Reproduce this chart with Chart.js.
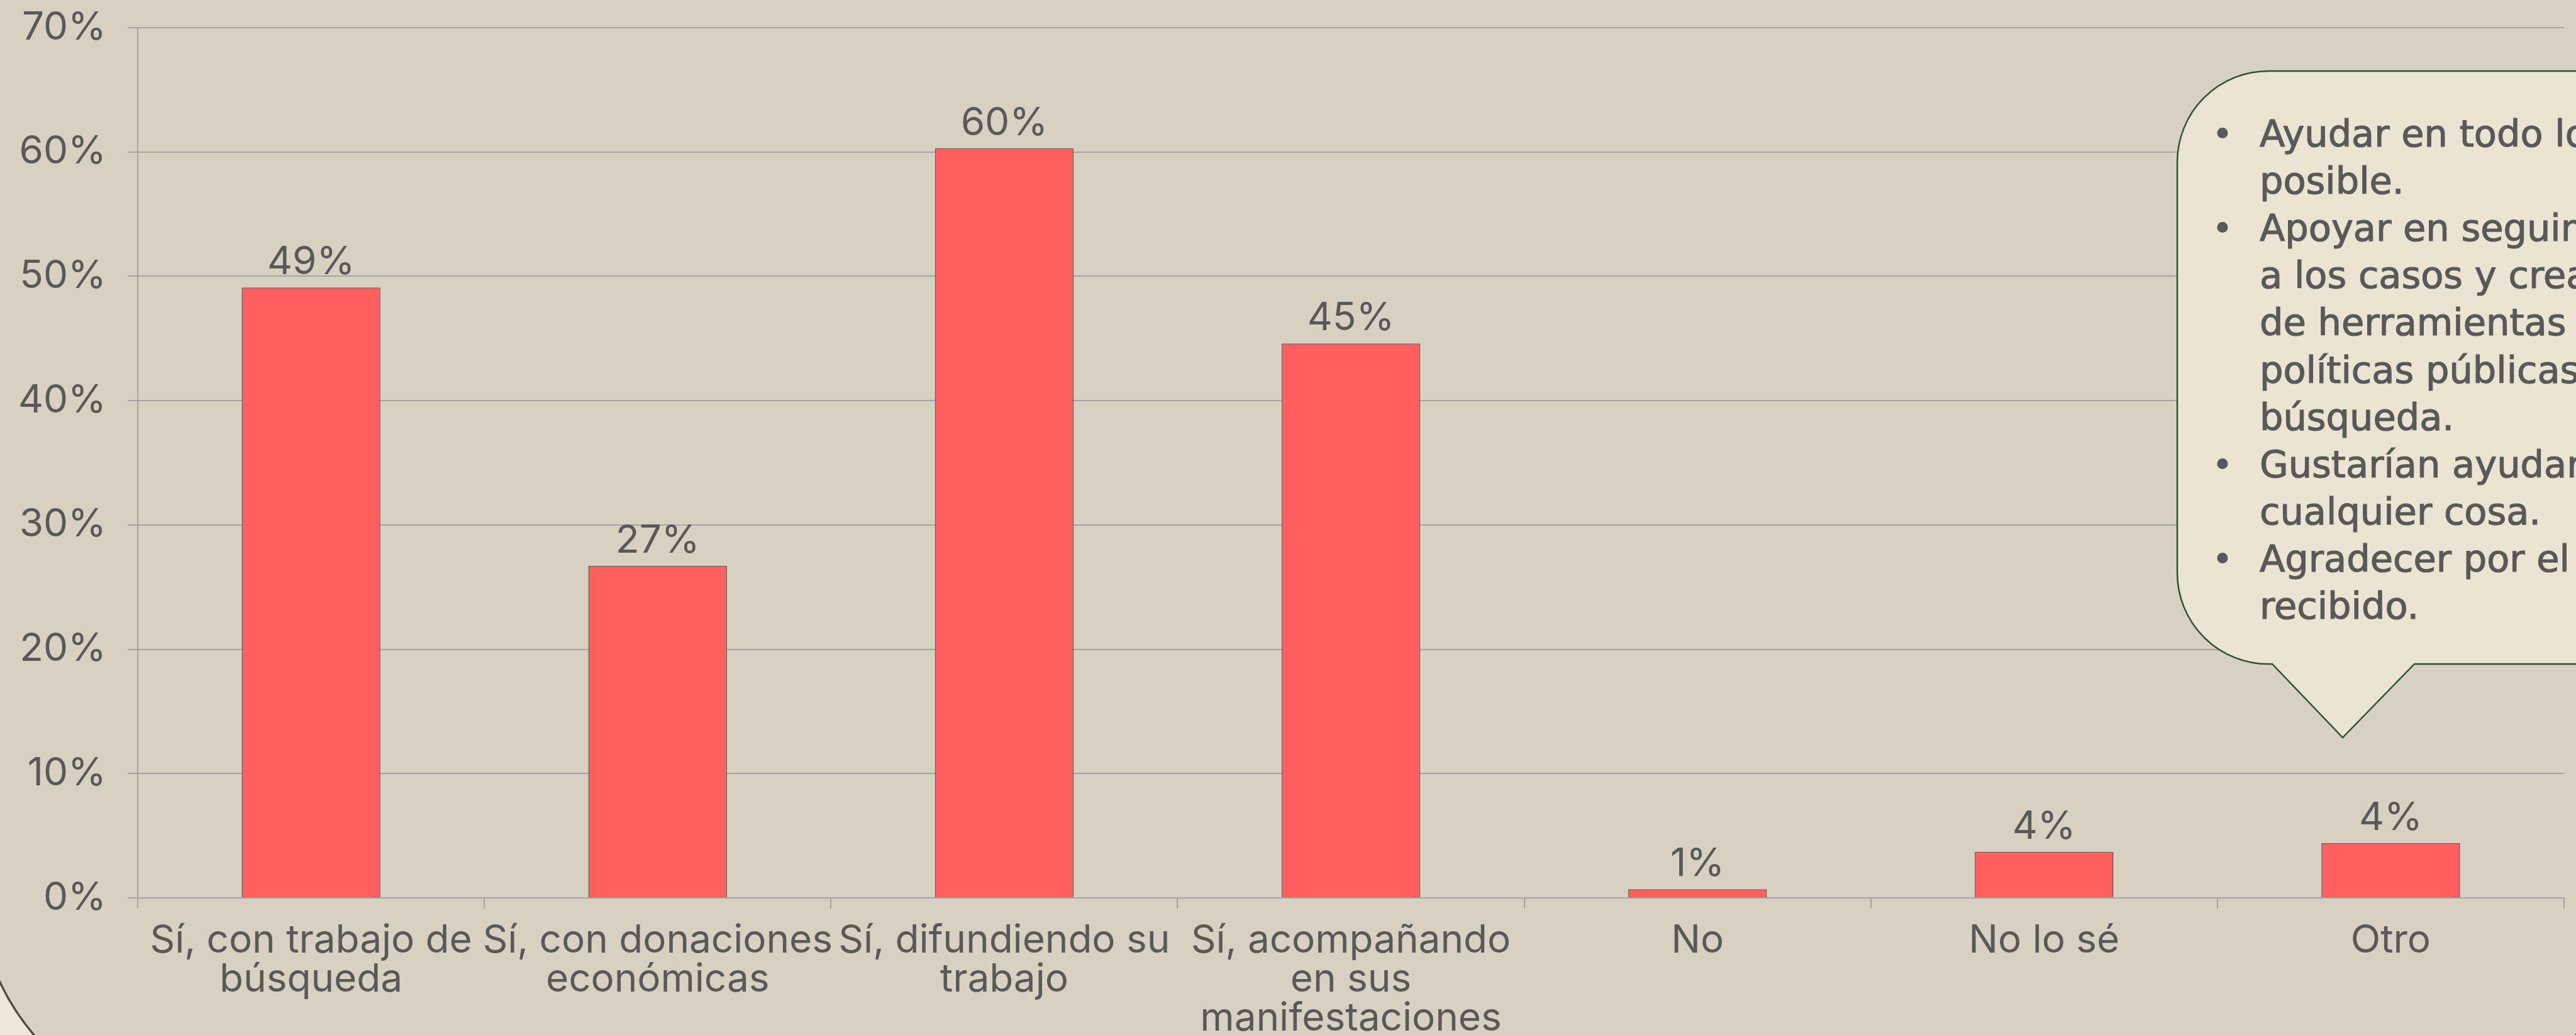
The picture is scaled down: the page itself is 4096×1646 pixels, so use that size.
<!DOCTYPE html>
<html lang="es">
<head>
    <meta charset="UTF-8">
    <title>Apoyo a la búsqueda</title>
    <script src="https://cdn.jsdelivr.net/npm/chart.js"></script>
    <style>
        html, body {
            margin: 0;
            padding: 0;
            background-color: #d8d0c0;
            overflow: hidden;
        }

        canvas {
            display: block;
        }
    </style>
</head>
<body>

<canvas id="graficoApoyo" width="4096" height="1646"></canvas>

<script>
    // datos del gráfico
    const categorias = [
        ['Sí, con trabajo de', 'búsqueda'],
        ['Sí, con donaciones', 'económicas'],
        ['Sí, difundiendo su', 'trabajo'],
        ['Sí, acompañando', 'en sus', 'manifestaciones'],
        'No',
        'No lo sé',
        'Otro'
    ];
    const porcentajes = [49.1, 26.7, 60.3, 44.6, 0.7, 3.7, 4.4];
    const marcasY = [0, 10, 20, 30, 40, 50, 60, 70];

    // texto del globo de "Otro"
    const notaOtro = [
        { vineta: true, texto: 'Ayudar en todo lo' },
        { vineta: false, texto: 'posible.' },
        { vineta: true, texto: 'Apoyar en seguimiento' },
        { vineta: false, texto: 'a los casos y creación' },
        { vineta: false, texto: 'de herramientas y' },
        { vineta: false, texto: 'políticas públicas de' },
        { vineta: false, texto: 'búsqueda.' },
        { vineta: true, texto: 'Gustarían ayudar en' },
        { vineta: false, texto: 'cualquier cosa.' },
        { vineta: true, texto: 'Agradecer por el apoyo' },
        { vineta: false, texto: 'recibido.' }
    ];

    const colorTexto = '#595959';
    const colorLinea = '#a4a4a4';
    const fuente = 'Inter, "Liberation Sans", Arial, sans-serif';

    Chart.defaults.font.family = fuente;
    Chart.defaults.color = colorTexto;

    const fondo = {
        id: 'fondo',
        beforeDraw(chart) {
            const ctx = chart.ctx;
            ctx.save();
            ctx.fillStyle = '#ede7d8';
            ctx.fillRect(0, 0, chart.width, chart.height);
            ctx.beginPath();
            ctx.roundRect(-37, -600, 4224, 2381, 383);
            ctx.fillStyle = '#d8d0c0';
            ctx.fill();
            ctx.lineWidth = 3.5;
            ctx.strokeStyle = '#4d4940';
            ctx.stroke();
            ctx.restore();
        }
    };

    const etiquetasBarras = {
        id: 'etiquetasBarras',
        afterDatasetsDraw(chart) {
            const ctx = chart.ctx;
            const meta = chart.getDatasetMeta(0);
            ctx.save();
            ctx.font = '62px ' + fuente;
            ctx.fillStyle = colorTexto;
            ctx.textAlign = 'center';
            ctx.textBaseline = 'alphabetic';
            meta.data.forEach((barra, i) => {
                ctx.fillText(Math.round(porcentajes[i]) + '%', barra.x, barra.y - 21);
            });
            ctx.restore();
        }
    };

    const globo = {
        id: 'globo',
        afterDraw(chart) {
            const ctx = chart.ctx;
            const izq = 3462, arriba = 113, der = 4300, abajo = 1056, radio = 145;

            ctx.save();
            ctx.beginPath();
            ctx.moveTo(izq + radio, arriba);
            ctx.lineTo(der, arriba);
            ctx.lineTo(der, abajo);
            ctx.lineTo(3839, abajo);
            ctx.lineTo(3725, 1173);
            ctx.lineTo(3613, abajo);
            ctx.lineTo(izq + radio, abajo);
            ctx.arcTo(izq, abajo, izq, abajo - radio, radio);
            ctx.lineTo(izq, arriba + radio);
            ctx.arcTo(izq, arriba, izq + radio, arriba, radio);
            ctx.closePath();
            ctx.fillStyle = '#ebe4d3';
            ctx.fill();
            ctx.lineWidth = 2.5;
            ctx.strokeStyle = '#2f5032';
            ctx.stroke();

            // texto ancho, algo más grueso que el regular
            ctx.font = '59px "DejaVu Sans", sans-serif';
            ctx.fillStyle = colorTexto;
            ctx.strokeStyle = colorTexto;
            ctx.lineWidth = 1.2;
            ctx.textBaseline = 'alphabetic';
            notaOtro.forEach((linea, i) => {
                const y = 233 + i * 75.1;
                if (linea.vineta) {
                    ctx.textAlign = 'center';
                    ctx.fillText('•', 3534, y);
                }
                ctx.textAlign = 'left';
                ctx.fillText(linea.texto, 3593, y);
                ctx.strokeText(linea.texto, 3593, y);
            });
            ctx.restore();
        }
    };

    const ctx = document.getElementById('graficoApoyo').getContext('2d');

    new Chart(ctx, {
        type: 'bar',
        data: {
            labels: categorias,
            datasets: [{
                data: porcentajes,
                backgroundColor: '#ff5f5f',
                borderColor: '#5a5a5a',
                borderWidth: 1.5,
                barPercentage: 0.4,
                categoryPercentage: 1.0
            }]
        },
        options: {
            responsive: false,
            devicePixelRatio: 1,
            animation: false,
            layout: {
                padding: { left: 20, right: 19, top: 44, bottom: 0 }
            },
            plugins: {
                legend: { display: false },
                tooltip: { enabled: false }
            },
            scales: {
                x: {
                    grid: {
                        drawOnChartArea: false,
                        drawTicks: true,
                        tickLength: 17,
                        color: colorLinea,
                        lineWidth: 2,
                        offset: true
                    },
                    border: { color: colorLinea, width: 2 },
                    ticks: {
                        autoSkip: false,
                        maxRotation: 0,
                        minRotation: 0,
                        padding: 20,
                        color: colorTexto,
                        font: { size: 62, lineHeight: 1.0 }
                    },
                    afterFit(escala) {
                        escala.height = 218;
                    }
                },
                y: {
                    min: 0,
                    max: 70,
                    afterBuildTicks(escala) {
                        escala.ticks = marcasY.map(v => ({ value: v }));
                    },
                    grid: {
                        color: colorLinea,
                        lineWidth: 2,
                        drawTicks: true,
                        tickLength: 16
                    },
                    border: { color: colorLinea, width: 2 },
                    ticks: {
                        padding: 34,
                        color: colorTexto,
                        font: { size: 62, lineHeight: 0.3 },
                        callback: v => v + '%'
                    },
                    afterFit(escala) {
                        escala.width = 199;
                    }
                }
            }
        },
        plugins: [fondo, etiquetasBarras, globo]
    });
</script>
</body>
</html>
